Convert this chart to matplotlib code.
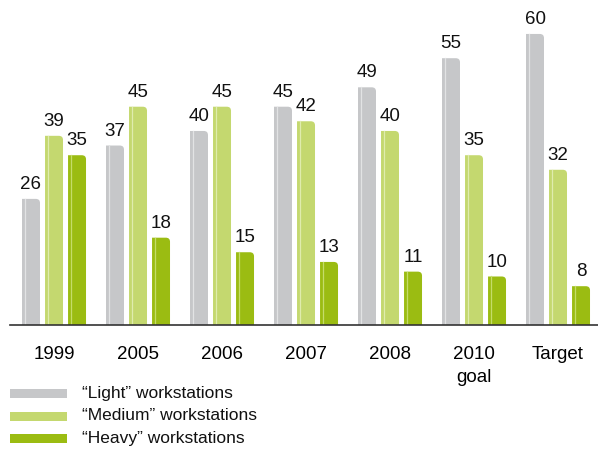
import matplotlib
matplotlib.use("Agg")
import matplotlib.pyplot as plt
from matplotlib.path import Path
from matplotlib.patches import PathPatch, Rectangle
from matplotlib import font_manager
import numpy as np

groups = ["1999", "2005", "2006", "2007", "2008", "2010\ngoal", "Target"]
light = [26, 37, 40, 45, 49, 55, 60]
medium = [39, 45, 45, 42, 40, 35, 32]
heavy = [35, 18, 15, 13, 11, 10, 8]
series_names = ["\u201cLight\u201d workstations", "\u201cMedium\u201d workstations",
                "\u201cHeavy\u201d workstations"]
colors = ["#c6c7c9", "#c4d86f", "#9bbc12"]
highlights = ["#e2e3e4", "#dfecae", "#c5dc6a"]

names = {f.name for f in font_manager.fontManager.ttflist}
family = "Liberation Sans Narrow" if "Liberation Sans Narrow" in names else "Liberation Sans"
plt.rcParams["font.family"] = [family, "DejaVu Sans"]

W, H = 598, 449
fig = plt.figure(figsize=(W / 100, H / 100), dpi=100)
ax = fig.add_axes([10 / W, (H - 325) / H, 1 - 10 / W, 325 / H])
ax.set_xlim(-0.524, 6.476)
ax.set_ylim(0, 67)

x = np.arange(len(groups))
width = 0.214
offset = 0.274


def round_top(rect, color, hl, rx=0.05, ry=0.85):
    x0, y0 = rect.get_x(), rect.get_y()
    w, h = rect.get_width(), rect.get_height()
    x1, y1 = x0 + w, y0 + h
    verts = [(x0, y0), (x0, y1), (x1 - rx, y1), (x1, y1), (x1, y1 - ry),
             (x1, y0), (x0, y0)]
    codes = [Path.MOVETO, Path.LINETO, Path.LINETO, Path.CURVE3, Path.CURVE3,
             Path.LINETO, Path.CLOSEPOLY]
    ax.add_patch(PathPatch(Path(verts, codes), facecolor=color, edgecolor="none"))
    ax.plot([x0 + 0.03, x0 + 0.03], [y0, y1], color=hl, lw=0.9)


for i, (vals, c, hl) in enumerate(zip([light, medium, heavy], colors, highlights)):
    bars = ax.bar(x + (i - 1) * offset, vals, width, color=c)
    for rect, v in zip(bars, vals):
        rect.set_visible(False)
        round_top(rect, c, hl)
        ax.text(rect.get_x() + rect.get_width() / 2, v + 1.2, str(v),
                ha="center", va="bottom", fontsize=13.5, color="#111111")

for s in ["top", "right", "left"]:
    ax.spines[s].set_visible(False)
ax.spines["bottom"].set_color("#333333")
ax.spines["bottom"].set_linewidth(1.2)
ax.set_yticks([])
ax.set_xticks(x)
ax.set_xticklabels(groups, fontsize=13.5, linespacing=1.45)
ax.tick_params(axis="x", length=0, pad=15)

# legend drawn in figure pixels
for k, (name, c) in enumerate(zip(series_names, colors)):
    yc = 393.5 + k * 22.5
    fig.patches.append(Rectangle((10 / W, (H - yc - 4.5) / H), 57 / W, 9 / H,
                                 transform=fig.transFigure, facecolor=c,
                                 edgecolor="none"))
    fig.text(82 / W, (H - yc) / H, name, fontsize=12.5, va="center",
             ha="left", color="#111111")

fig.savefig("out.png", dpi=100)
